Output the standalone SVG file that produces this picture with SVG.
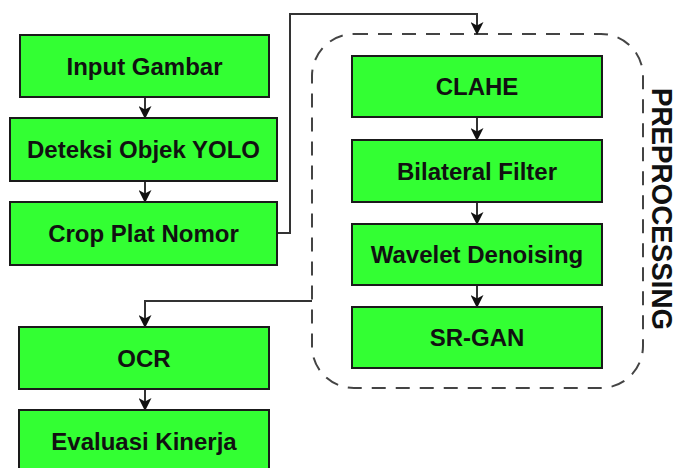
<svg xmlns="http://www.w3.org/2000/svg" width="679" height="468" viewBox="0 0 679 468">
<style>
.box{fill:#33ff33;stroke:#1a1a1a;stroke-width:2}
.lbl{font-family:"Liberation Sans",Arial,sans-serif;font-weight:bold;font-size:24px;fill:#111;text-anchor:middle}
.con{fill:none;stroke:#333;stroke-width:2}
.dash{fill:none;stroke:#444;stroke-width:2;stroke-dasharray:14 10}
</style>
<defs>
<marker id="ah" viewBox="0 0 13 13" refX="12" refY="6.5" markerWidth="13" markerHeight="13" markerUnits="userSpaceOnUse" orient="auto">
<path d="M0,0 L13,6.5 L0,13 L3.5,6.5 Z" fill="#111"/>
</marker>
</defs>
<rect class="dash" x="312" y="34" width="331" height="354" rx="42" ry="42"/>
<text transform="translate(652,209) rotate(90)" style="font-family:'Liberation Sans',Arial,sans-serif;font-weight:bold;font-size:30px;fill:#111;text-anchor:middle" textLength="242" lengthAdjust="spacingAndGlyphs">PREPROCESSING</text>
<g id="connectors">
<path class="con" d="M145,97 V118" marker-end="url(#ah)"/>
<path class="con" d="M145,181 V202" marker-end="url(#ah)"/>
<path class="con" d="M277,233 H290 V14 H477 V34" marker-end="url(#ah)"/>
<path class="con" d="M477,117 V140" marker-end="url(#ah)"/>
<path class="con" d="M477,202 V224" marker-end="url(#ah)"/>
<path class="con" d="M477,285 V307" marker-end="url(#ah)"/>
<path class="con" d="M312,301 H145 V327" marker-end="url(#ah)"/>
<path class="con" d="M145,389 V410" marker-end="url(#ah)"/>
</g>
<g id="input"><rect class="box" x="20" y="35" width="249" height="62"/><text class="lbl" x="144.5" y="75">Input Gambar</text></g>
<g id="deteksi"><rect class="box" x="10" y="118" width="267" height="63"/><text class="lbl" x="143.5" y="158">Deteksi Objek YOLO</text></g>
<g id="crop"><rect class="box" x="10" y="202" width="267" height="63"/><text class="lbl" x="143.5" y="242">Crop Plat Nomor</text></g>
<g id="clahe"><rect class="box" x="352" y="56" width="250" height="61"/><text class="lbl" x="477" y="95">CLAHE</text></g>
<g id="bilateral"><rect class="box" x="352" y="140" width="250" height="62"/><text class="lbl" x="477" y="180">Bilateral Filter</text></g>
<g id="wavelet"><rect class="box" x="352" y="224" width="250" height="61"/><text class="lbl" x="477" y="263">Wavelet Denoising</text></g>
<g id="srgan"><rect class="box" x="352" y="307" width="250" height="61"/><text class="lbl" x="477" y="346">SR-GAN</text></g>
<g id="ocr"><rect class="box" x="19" y="327" width="250" height="62"/><text class="lbl" x="144" y="367">OCR</text></g>
<g id="evaluasi"><rect class="box" x="19" y="410" width="250" height="62"/><text class="lbl" x="144" y="450">Evaluasi Kinerja</text></g>
</svg>
